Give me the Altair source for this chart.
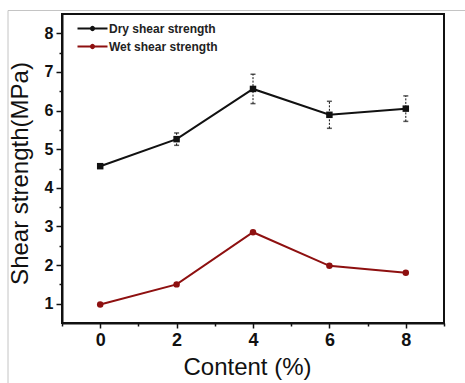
import altair as alt
import pandas as pd

# Shear strength vs. additive content
content = [0, 2, 4, 6, 8]
dry_strength = [4.56, 5.26, 6.56, 5.89, 6.05]
dry_error = [0.05, 0.16, 0.38, 0.35, 0.33]
wet_strength = [0.98, 1.50, 2.85, 1.98, 1.80]

series_names = ["Dry shear strength", "Wet shear strength"]
series_colors = ["#111111", "#8e1010"]

x_major = [0, 2, 4, 6, 8]
x_minor = [-1, 1, 3, 5, 7, 9]
y_major = [1, 2, 3, 4, 5, 6, 7, 8]
y_minor = [1.5, 2.5, 3.5, 4.5, 5.5, 6.5, 7.5]

rows = []
for c, v, e in zip(content, dry_strength, dry_error):
    rows.append({"content": c, "strength": v, "lo": v - e, "hi": v + e,
                 "series": series_names[0]})
for c, v in zip(content, wet_strength):
    rows.append({"content": c, "strength": v, "lo": v, "hi": v,
                 "series": series_names[1]})
df = pd.DataFrame(rows)
dry_df = df[df.series == series_names[0]]
wet_df = df[df.series == series_names[1]]

W, H = 382, 309

x_scale = alt.Scale(domain=[-1, 9], nice=False, zero=False)
y_scale = alt.Scale(domain=[0.5, 8.5], nice=False, zero=False)
col_scale = alt.Scale(domain=series_names, range=series_colors)

x_enc = alt.X(
    "content:Q", scale=x_scale,
    axis=alt.Axis(
        values=x_major, title="Content (%)", tickSize=5,
        labelPadding=3, labelOverlap=False, labelFlush=False,
        titleX=185, titleY=51, titleAlign="center", titleBaseline="alphabetic",
    ),
)
y_enc = alt.Y(
    "strength:Q", scale=y_scale,
    axis=alt.Axis(
        values=y_major, title="Shear strength(MPa)", tickSize=6,
        labelPadding=3, labelOverlap=False, labelFlush=False,
        titleAngle=270, titleX=-35, titleY=159, titleAlign="center",
        titleBaseline="alphabetic",
    ),
)

# legend key: a short line with a small dot in the middle
legend_symbol = ("M-3,0H3M-0.3,0L-0.26,-0.15L-0.15,-0.26L0,-0.3L0.15,-0.26L0.26,-0.15"
                 "L0.3,0L0.26,0.15L0.15,0.26L0,0.3L-0.15,0.26L-0.26,0.15Z")
legend = alt.Legend(
    title=None, orient="none", legendX=24, legendY=8,
    symbolType=legend_symbol, symbolSize=100, symbolStrokeWidth=2.2,
    labelFont="Liberation Sans", labelFontSize=12, labelFontWeight="bold",
    labelColor="#222222", labelOffset=10, rowPadding=5,
)

lines = alt.Chart(df).mark_line(strokeWidth=2).encode(
    x=x_enc, y=y_enc,
    stroke=alt.Stroke("series:N", scale=col_scale, legend=legend),
)

bars = alt.Chart(dry_df).mark_rule(color="#111111", strokeWidth=1, strokeDash=[2, 1.5]).encode(
    x="content:Q", y="lo:Q", y2="hi:Q",
)
caps_hi = alt.Chart(dry_df).mark_tick(color="#111111", orient="horizontal",
                                      size=5, thickness=1.5).encode(x="content:Q", y="hi:Q")
caps_lo = alt.Chart(dry_df).mark_tick(color="#111111", orient="horizontal",
                                      size=5, thickness=1.5).encode(x="content:Q", y="lo:Q")

dry_pts = alt.Chart(dry_df).mark_square(size=42, color=series_colors[0], opacity=1).encode(
    x="content:Q", y="strength:Q")
wet_pts = alt.Chart(wet_df).mark_circle(size=42, color=series_colors[1], opacity=1).encode(
    x="content:Q", y="strength:Q")

main = alt.layer(lines, bars, caps_hi, caps_lo, dry_pts, wet_pts)

# minor ticks on both axes, no labels
minor = alt.Chart(dry_df).mark_point(opacity=0).encode(
    x=alt.X("content:Q", scale=x_scale, axis=alt.Axis(
        values=x_minor, tickSize=3, labels=False, domain=False, title=None, orient="bottom")),
    y=alt.Y("strength:Q", scale=y_scale, axis=alt.Axis(
        values=y_minor, tickSize=3, labels=False, domain=False, title=None, orient="left")),
)

# light grey outer frame around the figure
frame_top = alt.Chart().mark_rule(color="#c4c4c4", strokeWidth=1).encode(
    x=alt.value(-54), x2=alt.value(W + 21), y=alt.value(-3.5))
frame_left = alt.Chart().mark_rule(color="#c4c4c4", strokeWidth=1).encode(
    x=alt.value(-54), y=alt.value(-3.5), y2=alt.value(H + 60))

chart = alt.layer(frame_top, frame_left, main, minor).resolve_scale(
    x="independent", y="independent"
).properties(
    width=W, height=H,
    autosize=alt.AutoSizeParams(type="none"),
    padding={"left": 62, "top": 14, "right": 21, "bottom": 60},
    background="white",
).configure_view(
    stroke="#111111", strokeWidth=2,
).configure_axis(
    domainColor="#111111", domainWidth=2, tickColor="#111111", tickWidth=1.5,
    labelFont="Liberation Sans", labelFontWeight="bold", labelColor="#111111",
    titleFont="Liberation Sans", titleColor="#111111", titleFontSize=24,
    titleFontWeight="normal", grid=False,
).configure_axisX(
    labelFontSize=18,
).configure_axisY(
    labelFontSize=16,
)

chart.save("out.html", embed_options={"renderer": "svg", "actions": False})
